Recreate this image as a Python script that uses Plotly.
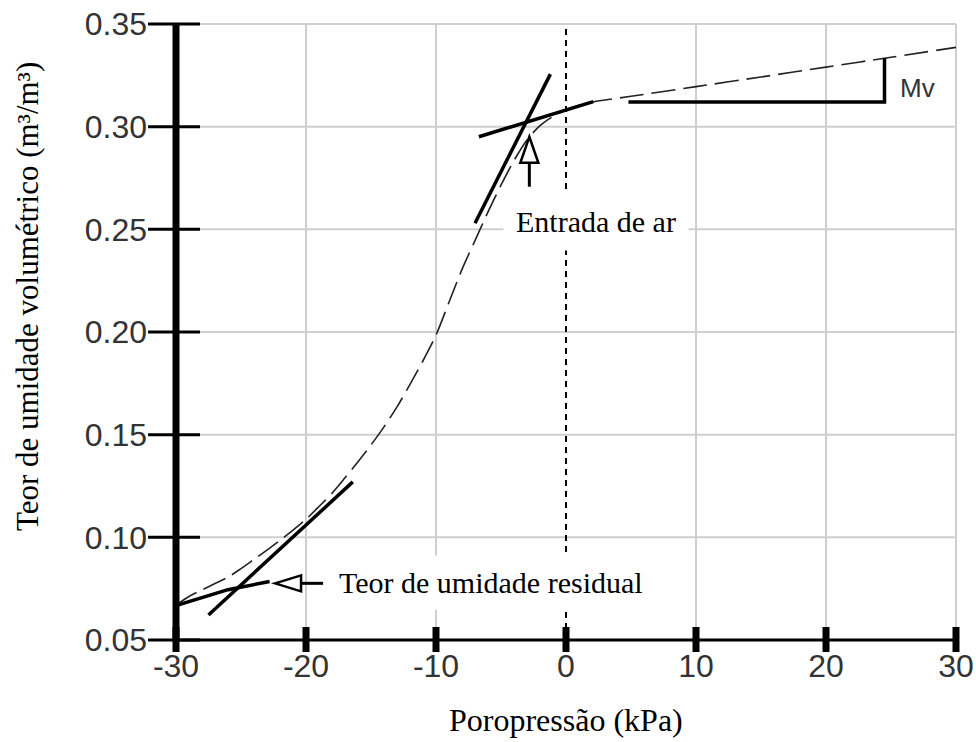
import plotly.graph_objects as go

# ---------------- data ----------------
pore_pressure = [-30, -29, -28, -27, -26, -25, -24, -23, -22, -21, -20, -19, -18, -17, -16,
                 -15, -14, -13, -12, -11, -10, -9, -8, -7, -6, -5, -4, -3, -2, -1, 0,
                 1, 2, 5, 10, 15, 20, 25, 30]
water_content = [0.0670, 0.0712, 0.0744, 0.0775, 0.0806, 0.0848, 0.0893, 0.0938, 0.0985,
                 0.1035, 0.1088, 0.1150, 0.1215, 0.1290, 0.1368, 0.1450, 0.1538, 0.1635,
                 0.1745, 0.1860, 0.1985, 0.2145, 0.2305, 0.2445, 0.2585, 0.2715, 0.2835,
                 0.2935, 0.3005, 0.3050, 0.3082, 0.3104, 0.3120, 0.3148, 0.3195, 0.3242,
                 0.3290, 0.3338, 0.3386]

# construction (tangent) lines
residual_x = [-30.0, -26.0, -22.8]
residual_y = [0.0668, 0.0745, 0.0785]
lower_slope_x = [-27.5, -16.4]
lower_slope_y = [0.0622, 0.1270]
upper_slope_x = [-7.0, -1.2]
upper_slope_y = [0.2530, 0.3256]
saturated_x = [-6.7, 2.1]
saturated_y = [0.2951, 0.3122]
mv_x = [4.8, 24.5, 24.5]
mv_y = [0.3120, 0.3120, 0.3334]

# annotation anchors
air_entry_arrow = (-2.82, 0.2951)
residual_arrow = (-22.38, 0.0776)

x_ticks = [-30, -20, -10, 0, 10, 20, 30]
y_ticks = [0.05, 0.10, 0.15, 0.20, 0.25, 0.30, 0.35]
x_range = [-30, 30]
y_range = [0.05, 0.35]

# ---------------- figure ----------------
W, H = 976, 742
ML, MR, MT, MB = 176, 20, 24, 102
PW, PH = W - ML - MR, H - MT - MB


def fx(v):
    return (v - x_range[0]) / (x_range[1] - x_range[0])


def fy(v):
    return (v - y_range[0]) / (y_range[1] - y_range[0])


def px_to_paper_x(p):
    return (p - ML) / PW


def px_to_paper_y(p):
    return (H - MB - p) / PH


fig = go.Figure()

fig.add_trace(go.Scatter(x=pore_pressure, y=water_content, mode="lines",
                         line=dict(color="#222222", width=1.6, dash="24px,8px",
                                   shape="spline", smoothing=0.8),
                         hoverinfo="skip", showlegend=False))

for xs, ys in [(residual_x, residual_y), (lower_slope_x, lower_slope_y),
               (upper_slope_x, upper_slope_y), (saturated_x, saturated_y),
               (mv_x, mv_y)]:
    fig.add_trace(go.Scatter(x=xs, y=ys, mode="lines",
                             line=dict(color="black", width=3.5),
                             hoverinfo="skip", showlegend=False))

shapes = []
GRID = "#cfcfcf"
# grid lines
for v in x_ticks:
    if v in (x_range[0], 0):
        continue
    shapes.append(dict(type="line", xref="paper", yref="paper", x0=fx(v), x1=fx(v),
                       y0=0, y1=1, line=dict(color=GRID, width=2), layer="below"))
for v in y_ticks:
    if v == y_range[0]:
        continue
    shapes.append(dict(type="line", xref="paper", yref="paper", x0=0, x1=1,
                       y0=fy(v), y1=fy(v), line=dict(color=GRID, width=2), layer="below"))
# dashed zero line
shapes.append(dict(type="line", xref="paper", yref="paper", x0=fx(0), x1=fx(0),
                   y0=0, y1=1, line=dict(color="black", width=2, dash="6px,5px"),
                   layer="below"))
# axis lines
shapes.append(dict(type="line", xref="paper", yref="paper", x0=0, x1=0, y0=0, y1=1,
                   line=dict(color="black", width=7)))
shapes.append(dict(type="line", xref="paper", yref="paper", x0=0, x1=1, y0=0, y1=0,
                   line=dict(color="black", width=3)))
# y ticks (crossing the axis)
for v in y_ticks:
    shapes.append(dict(type="line", xref="paper", yref="paper", xsizemode="pixel",
                       xanchor=0, x0=-28, x1=24, y0=fy(v), y1=fy(v),
                       line=dict(color="black", width=3)))
# x ticks (crossing the axis)
for v in x_ticks:
    shapes.append(dict(type="line", xref="paper", yref="paper", ysizemode="pixel",
                       yanchor=0, y0=-12, y1=13, x0=fx(v), x1=fx(v),
                       line=dict(color="black", width=7)))
# arrows
ax, ay = air_entry_arrow
shapes.append(dict(type="path", xref="paper", yref="paper", xsizemode="pixel",
                   ysizemode="pixel", xanchor=fx(ax), yanchor=fy(ay),
                   path="M 0,-26 L 0,-50", line=dict(color="black", width=3)))
shapes.append(dict(type="path", xref="paper", yref="paper", xsizemode="pixel",
                   ysizemode="pixel", xanchor=fx(ax), yanchor=fy(ay),
                   path="M 0,0 L 9,-26 L -9,-26 Z", fillcolor="white",
                   line=dict(color="black", width=2.5)))
rx, ry = residual_arrow
shapes.append(dict(type="path", xref="paper", yref="paper", xsizemode="pixel",
                   ysizemode="pixel", xanchor=fx(rx), yanchor=fy(ry),
                   path="M 26,0 L 48,0", line=dict(color="black", width=3)))
shapes.append(dict(type="path", xref="paper", yref="paper", xsizemode="pixel",
                   ysizemode="pixel", xanchor=fx(rx), yanchor=fy(ry),
                   path="M 0,0 L 26,8 L 26,-8 Z", fillcolor="white",
                   line=dict(color="black", width=2.5)))

SERIF = "Liberation Serif, Times New Roman, serif"
SANS = "Liberation Sans, Arial, sans-serif"

annotations = [
    dict(text="Entrada de ar", xref="paper", yref="paper",
         x=px_to_paper_x(596), y=px_to_paper_y(222), showarrow=False,
         font=dict(family=SERIF, size=30, color="black"), bgcolor="white",
         borderpad=12, xanchor="center", yanchor="middle"),
    dict(text="Teor de umidade residual", xref="paper", yref="paper",
         x=px_to_paper_x(491), y=px_to_paper_y(582), showarrow=False,
         font=dict(family=SERIF, size=30, color="black"), bgcolor="white",
         borderpad=10, xanchor="center", yanchor="middle"),
    dict(text="Mv", xref="paper", yref="paper",
         x=px_to_paper_x(917), y=px_to_paper_y(88), showarrow=False,
         font=dict(family=SANS, size=26, color="#333333"),
         xanchor="center", yanchor="middle"),
    dict(text="Poropressão (kPa)", xref="paper", yref="paper",
         x=px_to_paper_x(566), y=px_to_paper_y(720), showarrow=False,
         font=dict(family=SERIF, size=32, color="black"),
         xanchor="center", yanchor="middle"),
    dict(text="Teor de umidade volumétrico (m³/m³)", xref="paper", yref="paper",
         x=px_to_paper_x(27), y=px_to_paper_y(297), showarrow=False, textangle=-90,
         font=dict(family=SERIF, size=31, color="black"),
         xanchor="center", yanchor="middle"),
]

fig.update_layout(
    width=W, height=H,
    margin=dict(l=ML, r=MR, t=MT, b=MB, pad=0, autoexpand=False),
    paper_bgcolor="white", plot_bgcolor="white",
    shapes=shapes, annotations=annotations,
    xaxis=dict(range=x_range, tickvals=x_ticks, ticktext=[str(v) for v in x_ticks],
               showgrid=False, zeroline=False, showline=False, ticks="",
               ticklabelstandoff=4, automargin=False,
               tickfont=dict(family=SANS, size=32, color="#333333")),
    yaxis=dict(range=y_range, tickvals=y_ticks, tickformat=".2f",
               showgrid=False, zeroline=False, showline=False, ticks="",
               ticklabelstandoff=28, automargin=False,
               tickfont=dict(family=SANS, size=32, color="#333333")),
    showlegend=False,
)

fig.write_html("out.html")
